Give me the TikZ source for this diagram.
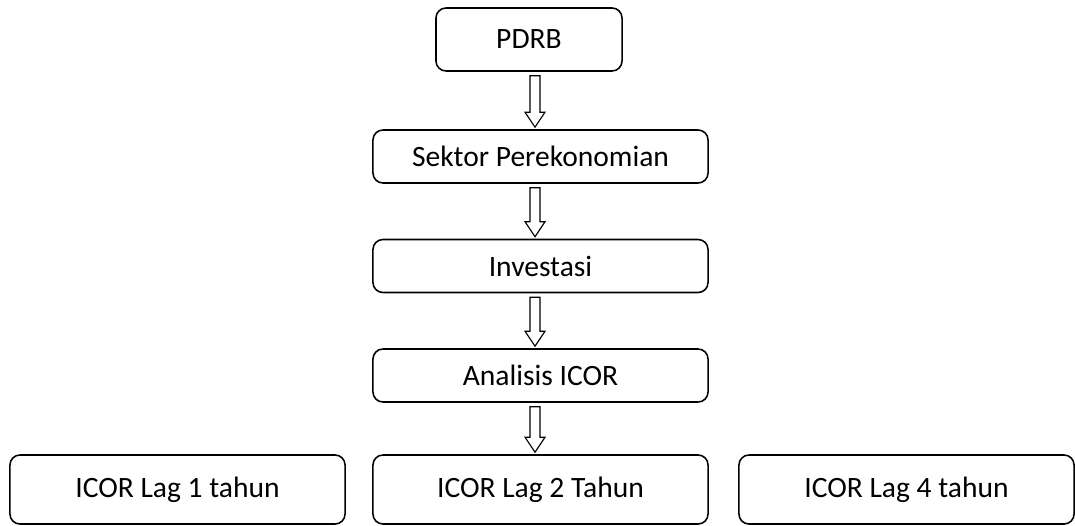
\documentclass[tikz,border=0pt]{standalone}
\usepackage{fontspec}
\setmainfont{Carlito}
\usepackage{tikz}
\usetikzlibrary{calc, positioning}

\begin{document}
\begin{tikzpicture}[x=0.025cm, y=-0.025cm,
    box/.style={draw, line width=1.1pt, rounded corners=0.25cm, align=center,
                font=\fontsize{21}{25}\selectfont, inner sep=0pt},
    midbox/.style={box, minimum width=8.375cm, minimum height=1.325cm},
    lagbox/.style={box, minimum width=8.375cm, minimum height=1.725cm},
    blockarrow/.style={draw, line width=0.8pt, fill=white}]
    \useasboundingbox (0,0) rectangle (1075,525);
    % Main chain
    \node[box, minimum width=4.65cm, minimum height=1.575cm] (pdrb) at (529,39.5) {PDRB};
    \node[midbox] (sektor) at (540.5,156.5) {Sektor Perekonomian};
    \node[midbox] (invest) at (540.5,266) {Investasi};
    \node[midbox] (icor) at (540.5,375.5) {Analisis ICOR};
    % ICOR lags
    \node[lagbox] (lag1) at (177.5,489.5) {ICOR Lag 1 tahun};
    \node[lagbox] (lag2) at (540.5,489.5) {ICOR Lag 2 Tahun};
    \node[lagbox] (lag4) at (906.5,489.5) {ICOR Lag 4 tahun};
    % Block arrows
    \coordinate (ax) at (535,0);
    \foreach \a/\b in {pdrb/sektor, sektor/invest, invest/icor, icor/lag2}
        \draw[blockarrow] ($(ax |- \a.south)+(-5,4)$) -- ($(ax |- \b.north)+(-5,-17)$)
            -- ++(-5,0) -- ($(ax |- \b.north)+(0,-2)$) -- ($(ax |- \b.north)+(10,-17)$)
            -- ++(-5,0) -- ($(ax |- \a.south)+(5,4)$) -- cycle;
\end{tikzpicture}
\end{document}
